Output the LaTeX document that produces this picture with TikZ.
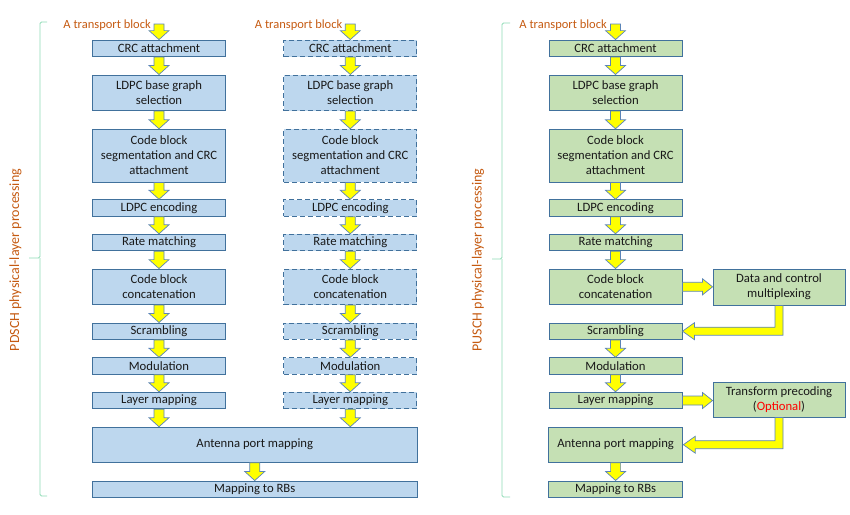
\documentclass[tikz,border=0pt]{standalone}
\usepackage{fontspec}
\setmainfont{Carlito}
\usetikzlibrary{calc}
\definecolor{bfill}{HTML}{BDD7EE}
\definecolor{gfill}{HTML}{C5E0B4}
\definecolor{bline}{HTML}{41719C}
\definecolor{aline}{HTML}{5B84B8}
\definecolor{orangetxt}{HTML}{C55A11}
\definecolor{bracec}{HTML}{8FDBB5}
\definecolor{ylw}{HTML}{FFFF00}
\definecolor{optred}{HTML}{FF0000}
\tikzset{
  blk/.style={draw=bline, line width=0.9pt, fill=bfill, minimum width=133pt, minimum height=16.5pt,
    align=center, inner sep=0pt, font=\fontsize{12.7}{15}\selectfont, text=black!90},
  dsh/.style={blk, dash pattern=on 5pt off 3pt},
  grn/.style={blk, fill=gfill},
  barrow/.style={draw=aline, fill=ylw, line width=0.7pt, line join=miter},
  lbl/.style={text=orangetxt, font=\fontsize{12.5}{15}\selectfont, inner sep=0pt},
  sidelbl/.style={lbl, font=\fontsize{14}{16}\selectfont},
  brc/.style={draw=bracec, line width=0.9pt, rounded corners=1.5pt}
}
\newcommand\blkdown[2]{\draw[barrow] let \p1=(#1), \p2=(#2) in
  (\x1-5pt,\y1) -- (\x1-5pt,\y2+9pt) -- (\x1-10pt,\y2+9pt) -- (\x1,\y2) --
  (\x1+10pt,\y2+9pt) -- (\x1+5pt,\y2+9pt) -- (\x1+5pt,\y1) -- cycle;}
\newcommand\blkright[2]{\draw[barrow] let \p1=(#1), \p2=(#2) in
  (\x1,\y1+4.5pt) -- (\x2-10pt,\y1+4.5pt) -- (\x2-10pt,\y1+8pt) -- (\x2,\y1) --
  (\x2-10pt,\y1-8pt) -- (\x2-10pt,\y1-4.5pt) -- (\x1,\y1-4.5pt) -- cycle;}
\newcommand\blkelbow[2]{\draw[barrow] let \p1=(#1), \p2=(#2) in
  (\x1-4pt,\y1) -- (\x1+4pt,\y1) -- (\x1+4pt,\y2-4pt) -- (\x2+12pt,\y2-4pt) --
  (\x2+12pt,\y2-8.5pt) -- (\x2,\y2) -- (\x2+12pt,\y2+8.5pt) -- (\x2+12pt,\y2+4pt) --
  (\x1-4pt,\y2+4pt) -- cycle;}
\begin{document}
\begin{tikzpicture}[x=1pt,y=-1pt]
\useasboundingbox (0,0) rectangle (850,514);
% columns
\foreach \c/\x/\s in {1/159/blk,2/350.3/dsh,3/615.5/grn}{
  \node[\s] (crc\c) at (\x,48.3) {CRC attachment};
  \node[\s, minimum height=35.7pt] (bg\c) at (\x,92.8) {LDPC base graph\\selection};
  \node[\s, minimum height=52.7pt] (cbs\c) at (\x,155.6) {Code block\\segmentation and CRC\\attachment};
  \node[\s] (enc\c) at (\x,208) {LDPC encoding};
  \node[\s] (rm\c) at (\x,242.5) {Rate matching};
  \node[\s, minimum height=35.5pt] (cbc\c) at (\x,286.8) {Code block\\concatenation};
  \node[\s] (scr\c) at (\x,331.2) {Scrambling};
  \node[\s] (mod\c) at (\x,366) {Modulation};
  \node[\s] (lay\c) at (\x,400.5) {Layer mapping};
}
\node[blk, minimum width=324.5pt, minimum height=35pt] (ant) at (254.75,444.7) {Antenna port mapping};
\node[blk, minimum width=324.5pt] (rb) at (254.75,489.2) {Mapping to RBs};
\node[grn, minimum width=134.5pt, minimum height=35pt] (ant3) at (615.6,444.7) {Antenna port mapping};
\node[grn, minimum width=134.5pt] (rb3) at (615.6,489.2) {Mapping to RBs};
\node[grn, minimum width=132pt, minimum height=36pt] (dcm) at (779,287) {Data and control\\multiplexing};
\node[grn, minimum width=132pt, minimum height=35pt] (tp) at (779,399.5) {Transform precoding\\(\textcolor{optred}{Optional})};
% transport block labels
\node[lbl, anchor=base east] (tbl1) at (151,28.5) {A transport block};
\node[lbl, anchor=base east] (tbl2) at (342.5,28.5) {A transport block};
\node[lbl, anchor=base east] (tbl3) at (607,28.5) {A transport block};
\coordinate (tb1) at (159,24);
\coordinate (tb2) at (350.3,24);
\coordinate (tb3) at (615.5,24);
% arrows
\foreach \c in {1,2,3}{
  \blkdown{tb\c}{crc\c.north}
  \blkdown{crc\c.south}{bg\c.north}
  \blkdown{bg\c.south}{cbs\c.north}
  \blkdown{cbs\c.south}{enc\c.north}
  \blkdown{enc\c.south}{rm\c.north}
  \blkdown{rm\c.south}{cbc\c.north}
  \blkdown{scr\c.south}{mod\c.north}
  \blkdown{mod\c.south}{lay\c.north}
}
\foreach \c in {1,2}{
  \blkdown{cbc\c.south}{scr\c.north}
  \blkdown{lay\c.south}{lay\c.south |- ant.north}
}
\blkdown{ant.south}{rb.north}
\blkright{cbc3.east}{cbc3.east -| dcm.west}
\blkelbow{dcm.south}{scr3.east}
\blkright{lay3.east}{lay3.east -| tp.west}
\blkelbow{tp.south}{ant3.east}
\blkdown{ant3.south}{rb3.north}
% braces
\draw[brc] (47,22) -- (40,22) -- (40,258) -- (29,258);
\draw[brc] (40,258) -- (40,496) -- (47,496);
\draw[brc] (510,23) -- (502,23) -- (502,259) -- (492,259);
\draw[brc] (502,259) -- (502,497) -- (510,497);
\node[sidelbl, rotate=90] (pdsch) at (15.5,260) {PDSCH physical-layer processing};
\node[sidelbl, rotate=90] (pusch) at (478,260) {PUSCH physical-layer processing};
\end{tikzpicture}
\end{document}
